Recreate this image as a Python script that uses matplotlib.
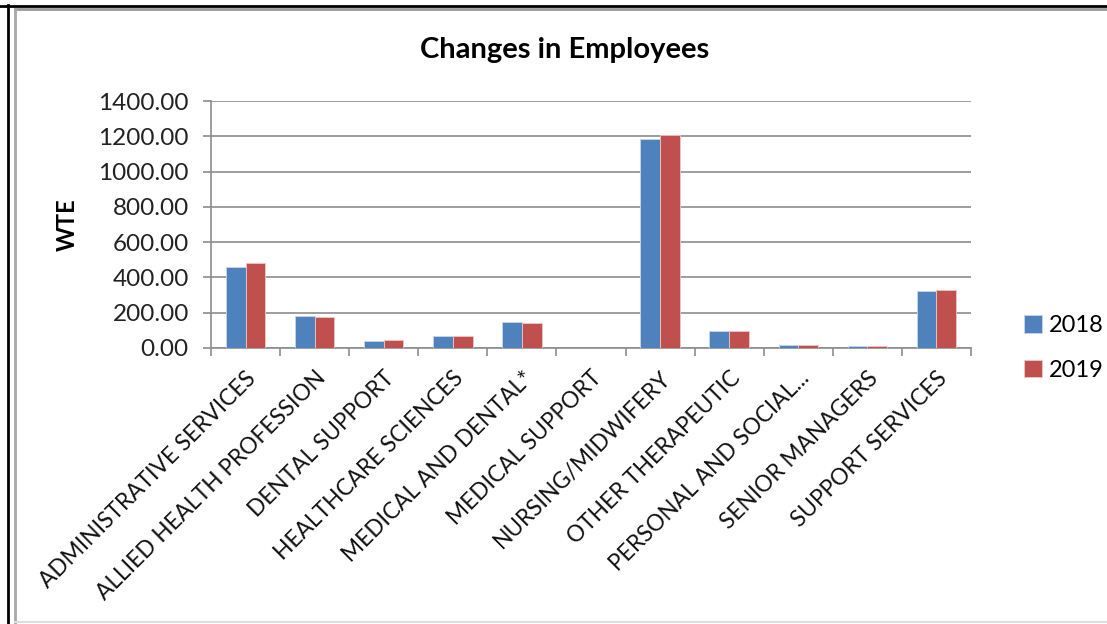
import matplotlib.pyplot as plt
import numpy as np
from matplotlib.lines import Line2D

# Dane
kategorie = ["ADMINISTRATIVE SERVICES", "ALLIED HEALTH PROFESSION", "DENTAL SUPPORT",
             "HEALTHCARE SCIENCES", "MEDICAL AND DENTAL*", "MEDICAL SUPPORT",
             "NURSING/MIDWIFERY", "OTHER THERAPEUTIC", "PERSONAL AND SOCIAL...",
             "SENIOR MANAGERS", "SUPPORT SERVICES"]
wte_2018 = [459, 183, 37, 66, 147, 0, 1184, 96, 15, 9, 321]
wte_2019 = [481, 176, 47, 66, 139, 0, 1205, 96, 15, 9, 329]
lata = ["2018", "2019"]
yticks = [0, 200, 400, 600, 800, 1000, 1200, 1400]

plt.rcParams['font.family'] = ['Lato', 'DejaVu Sans']

W, H = 1107, 624
fig = plt.figure(figsize=(W / 100, H / 100), dpi=100)
fig.patch.set_facecolor('white')

# obszar wykresu w pikselach: x 211-971, y 101-348
ax = fig.add_axes([211 / W, 1 - 348 / H, (971 - 211) / W, (348 - 101) / H])

x = np.arange(len(kategorie))
szer = 0.285
ax.bar(x - szer / 2, wte_2018, szer, color='#4F81BD', edgecolor='#c9d7ea', linewidth=0.6, label=lata[0], zorder=3)
ax.bar(x + szer / 2, wte_2019, szer, color='#C0504D', edgecolor='#ecc8c7', linewidth=0.6, label=lata[1], zorder=3)

ax.set_xlim(-0.5, len(kategorie) - 0.5)
ax.set_ylim(0, 1400)
ax.set_yticks(yticks)
ax.set_yticklabels([f"{v:.2f}" for v in yticks], fontsize=17.5, color='#222222')
ax.yaxis.grid(True, color='#8c8c8c', linewidth=1.2, zorder=0)
ax.set_axisbelow(True)

# podzialki osi X na granicach kategorii
ax.set_xticks(np.arange(len(kategorie) + 1) - 0.5)
ax.set_xticklabels([])
ax.set_xticks(x, minor=True)
ax.set_xticklabels(kategorie, minor=True, rotation=45, ha='right', va='top',
                   rotation_mode='anchor', fontsize=16.3, color='#111111')
ax.tick_params(axis='x', which='minor', length=0, pad=14)
ax.tick_params(axis='x', which='major', length=6, color='#8c8c8c', width=1.2)
ax.tick_params(axis='y', length=6, color='#8c8c8c', width=1.2, pad=10)

for s in ['top', 'right']:
    ax.spines[s].set_visible(False)
for s in ['left', 'bottom']:
    ax.spines[s].set_color('#8c8c8c')
    ax.spines[s].set_linewidth(1.2)

ax.set_ylabel("WTE", fontsize=17, fontweight='bold', labelpad=14)
fig.text(565 / W, 1 - 50 / H, "Changes in Employees", fontsize=21, fontweight='bold',
         ha='center', va='center')

fig.legend(loc='center left', bbox_to_anchor=(1003 / W, 1 - 348 / H), frameon=False,
           fontsize=17, handlelength=0.75, handleheight=0.75, handletextpad=0.3,
           labelspacing=1.0)

# ramka dookola
def linia(xs, ys, kolor, lw):
    fig.add_artist(Line2D([a / W for a in xs], [1 - b / H for b in ys], color=kolor, linewidth=lw))

linia([0, W], [5.5, 5.5], 'black', 2)
linia([7.5, 7.5], [5, H], 'black', 2)
linia([15, W], [8.5, 8.5], '#9a9a9a', 2)
linia([15, 15], [8.5, H], '#a8a8a8', 2)
linia([15, W], [622, 622], '#dddddd', 1.5)

fig.savefig('out.png', dpi=100)
